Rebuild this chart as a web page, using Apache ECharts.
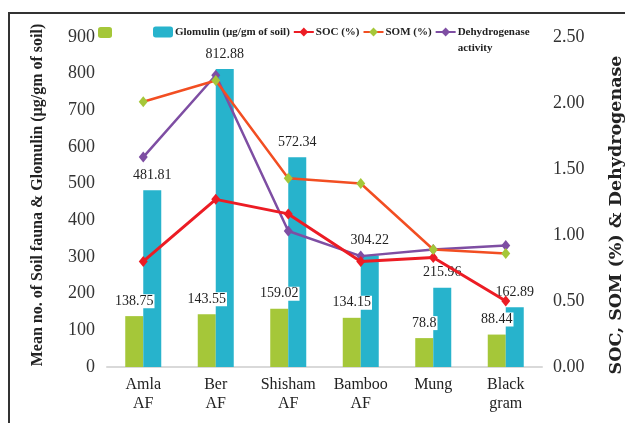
<!DOCTYPE html>
<html>
<head>
<meta charset="utf-8">
<script src="https://cdn.jsdelivr.net/npm/echarts@6/dist/echarts.min.js"></script>
<style>
  html, body { margin: 0; padding: 0; background: #fff; }
  #chart { width: 625px; height: 423px; }
</style>
</head>
<body>
<div id="chart"></div>
<script>
// Sites / crops along the x axis
const categories = ['Amla\nAF', 'Ber\nAF', 'Shisham\nAF', 'Bamboo\nAF', 'Mung', 'Black\ngram'];

// Bars (left axis)
const soilFauna = [138.75, 143.55, 159.02, 134.15, 78.8, 88.44];
const glomulin = [481.81, 812.88, 572.34, 304.22, 215.96, 162.89];

// Lines (right axis)
const soc = [0.80, 1.27, 1.16, 0.80, 0.83, 0.50];
const som = [2.01, 2.17, 1.43, 1.39, 0.89, 0.86];
const dehydrogenase = [1.59, 2.21, 1.03, 0.84, 0.89, 0.92];

// Axis ticks
const leftTicks = { min: 0, max: 900, interval: 100 };
const rightTicks = { min: 0, max: 2.5, interval: 0.5 };

const SERIF = '"Liberation Serif", "DejaVu Serif", serif';
const GREEN = '#a5c739';
const CYAN = '#27b3cc';
const RED = '#ec1c24';
const ORANGE = '#f24e22';
const PURPLE = '#7e4ea3';

const chart = echarts.init(document.getElementById('chart'), null, { renderer: 'canvas' });

const barLabel = {
  show: true,
  position: 'top',
  distance: 8,
  fontFamily: SERIF,
  fontSize: 14,
  color: '#222',
  backgroundColor: '#fff',
  padding: [0, 1, 0, 1]
};

chart.setOption({
  animation: false,
  backgroundColor: '#fff',
  grid: { left: 107, right: 83, top: 37, bottom: 56, outerBoundsMode: 'none', containLabel: false },
  legend: [
    {
      data: ['Soil fauna'],
      left: 98, top: 27,
      padding: 0,
      itemWidth: 14, itemHeight: 11,
      formatter: () => '',
      selectedMode: false
    },
    {
      data: ['Glomulin (µg/gm of soil)', 'SOC (%)', 'SOM (%)', 'Dehydrogenase activity'],
      left: 153, top: 8,
      padding: 0,
      itemWidth: 20, itemHeight: 11,
      itemGap: 3,
      selectedMode: false,
      // the two-line entry keeps its first line level with its icon
      formatter: (n) => n === 'Dehydrogenase activity' ? ' \nDehydrogenase\nactivity' : n,
      textStyle: {
        fontFamily: SERIF, fontSize: 11, fontWeight: 'bold', color: '#222',
        lineHeight: 16,
        padding: [0, 0, 0, -3]
      }
    }
  ],
  xAxis: {
    type: 'category',
    data: categories,
    axisLine: { show: true, lineStyle: { color: '#d9d9d9', width: 2 } },
    axisTick: { show: false },
    axisLabel: {
      interval: 0,
      margin: 8,
      fontFamily: SERIF, fontSize: 16, lineHeight: 19, color: '#222'
    }
  },
  yAxis: [
    {
      type: 'value',
      min: leftTicks.min, max: leftTicks.max, interval: leftTicks.interval,
      name: 'Mean no. of Soil fauna & Glomulin (µg/gm of soil)',
      nameLocation: 'middle',
      nameGap: 61,
      nameTextStyle: {
        fontFamily: SERIF, fontSize: 16, fontWeight: 'bold', color: '#222',
        padding: [0, 0, 0, 14]
      },
      axisLine: { show: false },
      axisTick: { show: false },
      splitLine: { show: false },
      axisLabel: { margin: 12, fontFamily: SERIF, fontSize: 18, color: '#333' }
    },
    {
      type: 'value',
      min: rightTicks.min, max: rightTicks.max, interval: rightTicks.interval,
      name: 'SOC, SOM (%) & Dehydrogenase',
      nameLocation: 'middle',
      nameGap: 65,
      nameTextStyle: {
        fontFamily: '"DejaVu Serif", serif', fontSize: 17.5, fontWeight: 'bold', color: '#222',
        padding: [0, 26, 0, 0]
      },
      axisLine: { show: false },
      axisTick: { show: false },
      splitLine: { show: false },
      axisLabel: {
        margin: 11, fontFamily: SERIF, fontSize: 18, color: '#333',
        formatter: (v) => v.toFixed(2)
      }
    }
  ],
  series: [
    {
      name: 'Soil fauna',
      type: 'bar',
      data: soilFauna,
      barWidth: 18,
      barGap: '0%',
      itemStyle: { color: GREEN },
      label: barLabel,
      z: 1
    },
    {
      name: 'Glomulin (µg/gm of soil)',
      type: 'bar',
      data: glomulin,
      barWidth: 18,
      itemStyle: { color: CYAN },
      label: barLabel,
      z: 1
    },
    {
      name: 'SOC (%)',
      type: 'line',
      yAxisIndex: 1,
      data: soc,
      symbol: 'diamond',
      symbolSize: [9, 11],
      lineStyle: { color: RED, width: 3 },
      itemStyle: { color: RED },
      z: 4
    },
    {
      name: 'SOM (%)',
      type: 'line',
      yAxisIndex: 1,
      data: som,
      symbol: 'diamond',
      symbolSize: [9, 11],
      lineStyle: { color: ORANGE, width: 2.5 },
      itemStyle: { color: GREEN },
      z: 4
    },
    {
      name: 'Dehydrogenase activity',
      type: 'line',
      yAxisIndex: 1,
      data: dehydrogenase,
      symbol: 'diamond',
      symbolSize: [9, 11],
      lineStyle: { color: PURPLE, width: 2.5 },
      itemStyle: { color: PURPLE },
      z: 3
    }
  ],
  graphic: [
    // frame lines across the top and down the left side
    { type: 'rect', shape: { x: 8, y: 12, width: 617, height: 2 }, style: { fill: '#333' }, silent: true },
    { type: 'rect', shape: { x: 8, y: 12, width: 2, height: 411 }, style: { fill: '#333' }, silent: true }
  ]
});
</script>
</body>
</html>
